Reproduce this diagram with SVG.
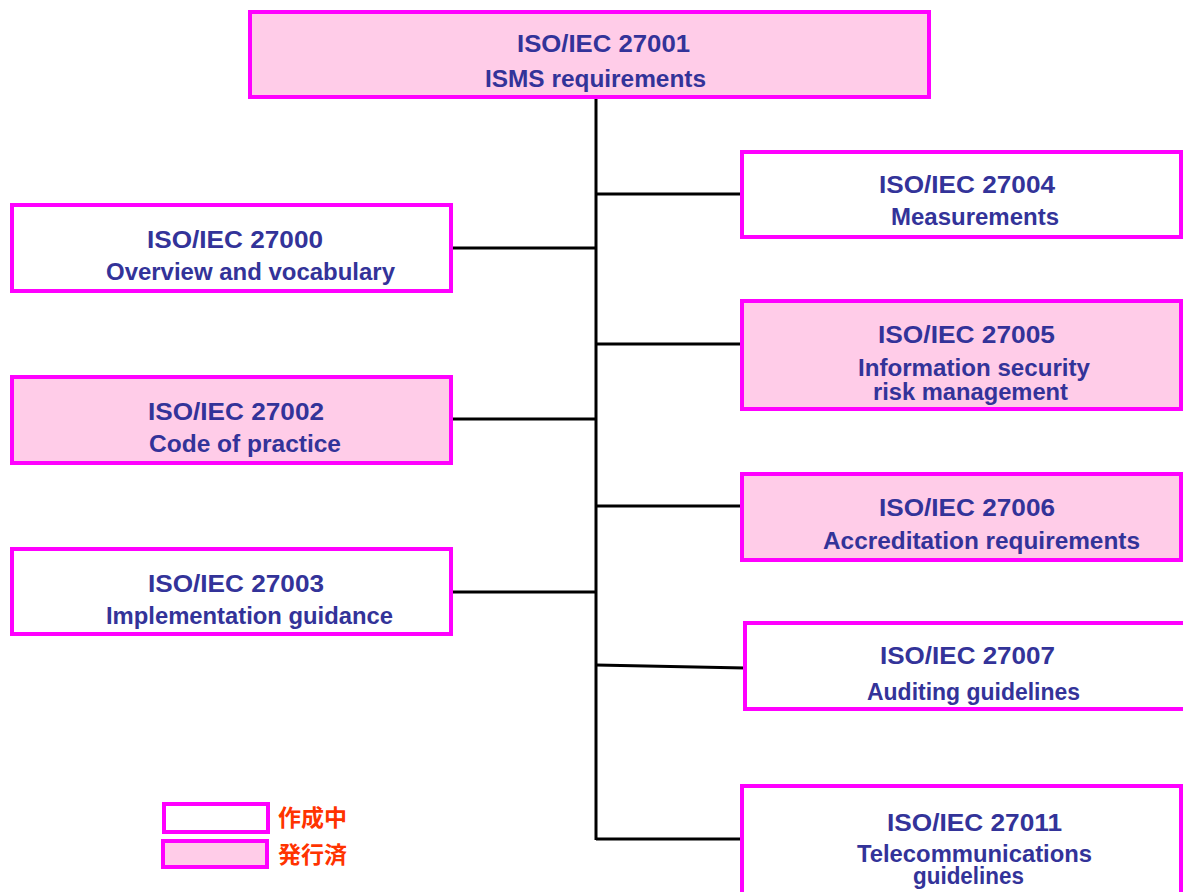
<svg xmlns="http://www.w3.org/2000/svg" width="1183" height="892" viewBox="0 0 1183 892">
<style>
.box{stroke:#ff00ff;stroke-width:4;fill:#ffffff}
.pub{fill:#ffcce8}
.t{font-family:"Liberation Sans","Noto Sans CJK JP",sans-serif;font-size:23px;fill:#333399;font-weight:bold}
.lg{font-family:"Noto Sans CJK JP",sans-serif;font-size:23px;fill:#ff3300;font-weight:bold}
.c{stroke:#000000;stroke-width:3;fill:none}
</style>
<rect width="1183" height="892" fill="#ffffff"/>
<g id="connectors">
<line class="c" x1="596" y1="97" x2="596" y2="840"/>
<line class="c" x1="451" y1="248" x2="596" y2="248"/>
<line class="c" x1="451" y1="419" x2="596" y2="419"/>
<line class="c" x1="451" y1="592" x2="596" y2="592"/>
<line class="c" x1="596" y1="194" x2="742" y2="194"/>
<line class="c" x1="596" y1="344" x2="742" y2="344"/>
<line class="c" x1="596" y1="506" x2="742" y2="506"/>
<line class="c" x1="596" y1="665" x2="745" y2="668"/>
<line class="c" x1="596" y1="839" x2="742" y2="839"/>
</g>
<g id="n27001">
<rect class="box pub" x="250" y="12" width="679" height="85"/>
<text class="t" x="517" y="52" textLength="173" lengthAdjust="spacingAndGlyphs">ISO/IEC 27001</text>
<text class="t" x="485" y="87" textLength="221" lengthAdjust="spacingAndGlyphs">ISMS requirements</text>
</g>
<g id="n27000">
<rect class="box" x="12" y="205" width="439" height="86"/>
<text class="t" x="147" y="248" textLength="176" lengthAdjust="spacingAndGlyphs">ISO/IEC 27000</text>
<text class="t" x="106" y="280" textLength="289" lengthAdjust="spacingAndGlyphs">Overview and vocabulary</text>
</g>
<g id="n27002">
<rect class="box pub" x="12" y="377" width="439" height="86"/>
<text class="t" x="148" y="420" textLength="176" lengthAdjust="spacingAndGlyphs">ISO/IEC 27002</text>
<text class="t" x="149" y="452" textLength="192" lengthAdjust="spacingAndGlyphs">Code of practice</text>
</g>
<g id="n27003">
<rect class="box" x="12" y="549" width="439" height="85"/>
<text class="t" x="148" y="592" textLength="176" lengthAdjust="spacingAndGlyphs">ISO/IEC 27003</text>
<text class="t" x="106" y="624" textLength="287" lengthAdjust="spacingAndGlyphs">Implementation guidance</text>
</g>
<g id="n27004">
<rect class="box" x="742" y="152" width="439" height="85"/>
<text class="t" x="879" y="193" textLength="176" lengthAdjust="spacingAndGlyphs">ISO/IEC 27004</text>
<text class="t" x="891" y="225" textLength="168" lengthAdjust="spacingAndGlyphs">Measurements</text>
</g>
<g id="n27005">
<rect class="box pub" x="742" y="301" width="439" height="108"/>
<text class="t" x="878" y="343" textLength="177" lengthAdjust="spacingAndGlyphs">ISO/IEC 27005</text>
<text class="t" x="858" y="376" textLength="232" lengthAdjust="spacingAndGlyphs">Information security</text>
<text class="t" x="873" y="400" textLength="195" lengthAdjust="spacingAndGlyphs">risk management</text>
</g>
<g id="n27006">
<rect class="box pub" x="742" y="474" width="439" height="86"/>
<text class="t" x="879" y="516" textLength="176" lengthAdjust="spacingAndGlyphs">ISO/IEC 27006</text>
<text class="t" x="823" y="549" textLength="317" lengthAdjust="spacingAndGlyphs">Accreditation requirements</text>
</g>
<g id="n27007">
<rect class="box" x="745" y="623" width="440" height="86"/>
<text class="t" x="880" y="664" textLength="175" lengthAdjust="spacingAndGlyphs">ISO/IEC 27007</text>
<text class="t" x="867" y="700" textLength="213" lengthAdjust="spacingAndGlyphs">Auditing guidelines</text>
</g>
<g id="n27011">
<rect class="box" x="742" y="786" width="439" height="110"/>
<text class="t" x="887" y="831" textLength="175" lengthAdjust="spacingAndGlyphs">ISO/IEC 27011</text>
<text class="t" x="857" y="862" textLength="235" lengthAdjust="spacingAndGlyphs">Telecommunications</text>
<text class="t" x="913" y="884" textLength="111" lengthAdjust="spacingAndGlyphs">guidelines</text>
</g>
<g id="legend">
<rect class="box" x="164" y="804" width="104" height="28"/>
<rect class="box pub" x="163" y="841" width="104" height="26"/>
<text class="lg" x="278" y="826">作成中</text>
<text class="lg" x="278" y="863">発行済</text>
</g>
</svg>
